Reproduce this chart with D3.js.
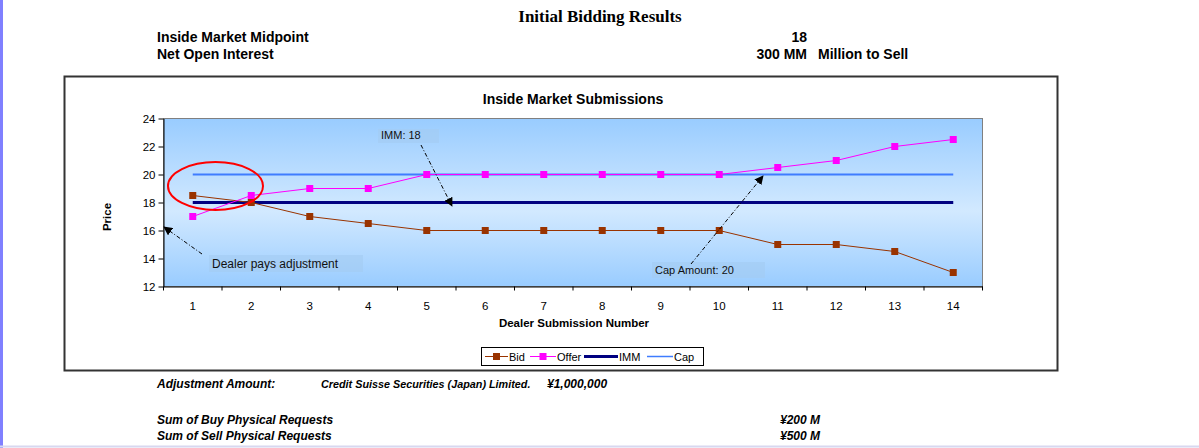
<!DOCTYPE html>
<html>
<head>
<meta charset="utf-8">
<script src="https://cdn.jsdelivr.net/npm/d3@7"></script>
<style>
  html, body { margin: 0; padding: 0; background: #fff; }
  svg { display: block; }
</style>
</head>
<body>
<div id="chart"></div>
<script>
// data
const submissions = [1, 2, 3, 4, 5, 6, 7, 8, 9, 10, 11, 12, 13, 14];
const bidValues = [18.5, 18, 17, 16.5, 16, 16, 16, 16, 16, 16, 15, 15, 14.5, 13];
const offerValues = [17, 18.5, 19, 19, 20, 20, 20, 20, 20, 20, 20.5, 21, 22, 22.5];
const immValues = [18, 18, 18, 18, 18, 18, 18, 18, 18, 18, 18, 18, 18, 18];
const capValues = [20, 20, 20, 20, 20, 20, 20, 20, 20, 20, 20, 20, 20, 20];
const priceTicks = [12, 14, 16, 18, 20, 22, 24];
const seriesNames = ['Bid', 'Offer', 'IMM', 'Cap'];

const headerRows = [
  { label: 'Inside Market Midpoint', value: '18', extra: '' },
  { label: 'Net Open Interest', value: '300 MM', extra: 'Million to Sell' }
];
const footerRows = [
  { label: 'Sum of Buy Physical Requests', value: '\u00a5200 M' },
  { label: 'Sum of Sell Physical Requests', value: '\u00a5500 M' }
];

const W = 1199, H = 448;
const plot = { left: 163.5, top: 118.5, right: 982.5, bottom: 286.5 };

const svg = d3.select('#chart').append('svg')
  .attr('width', W)
  .attr('height', H)
  .style('font-family', 'Arial, "Liberation Sans", sans-serif');

// page edges
svg.append('rect').attr('x', 0).attr('y', 0).attr('width', 3).attr('height', H).attr('fill', '#8080ff');
svg.append('line').attr('x1', 0).attr('x2', W).attr('y1', 446.5).attr('y2', 446.5)
  .attr('stroke', '#d8d8f0').attr('stroke-width', 2);

// header
svg.append('text').attr('x', 600).attr('y', 22).attr('text-anchor', 'middle')
  .style('font-family', '"Liberation Serif", "Times New Roman", serif')
  .style('font-weight', 'bold').style('font-size', '17px')
  .text('Initial Bidding Results');

headerRows.forEach((r, i) => {
  const y = 42 + i * 17;
  const g = svg.append('g').style('font-weight', 'bold').style('font-size', '14px');
  g.append('text').attr('x', 157).attr('y', y).text(r.label);
  g.append('text').attr('x', 807).attr('y', y).attr('text-anchor', 'end').text(r.value);
  if (r.extra) g.append('text').attr('x', 818).attr('y', y).text(r.extra);
});

// chart frame
svg.append('rect').attr('x', 64.5).attr('y', 76.5).attr('width', 993).attr('height', 294)
  .attr('fill', '#fff').attr('stroke', '#333').attr('stroke-width', 2);

svg.append('text').attr('x', 573).attr('y', 104).attr('text-anchor', 'middle')
  .style('font-weight', 'bold').style('font-size', '14px')
  .text('Inside Market Submissions');

// scales
const x = d3.scaleBand().domain(submissions).range([plot.left, plot.right]);
const cx = d => x(d) + x.bandwidth() / 2;
const y = d3.scaleLinear().domain([12, 24]).range([plot.bottom, plot.top]);

// plot background
const defs = svg.append('defs');
const grad = defs.append('linearGradient').attr('id', 'plotbg')
  .attr('x1', 0).attr('y1', 0).attr('x2', 0).attr('y2', 1);
grad.append('stop').attr('offset', '0%').attr('stop-color', '#99ccff');
grad.append('stop').attr('offset', '55%').attr('stop-color', '#d2e9ff');
grad.append('stop').attr('offset', '100%').attr('stop-color', '#99ccff');

svg.append('rect').attr('x', plot.left).attr('y', plot.top)
  .attr('width', plot.right - plot.left).attr('height', plot.bottom - plot.top)
  .attr('fill', 'url(#plotbg)').attr('stroke', '#808080').attr('stroke-width', 1);

// arrow marker
defs.append('marker').attr('id', 'arrow').attr('viewBox', '0 0 10 10')
  .attr('refX', 9).attr('refY', 5).attr('markerWidth', 9).attr('markerHeight', 9)
  .attr('markerUnits', 'userSpaceOnUse').attr('orient', 'auto')
  .append('path').attr('d', 'M0,0 L10,5 L0,10 z').attr('fill', '#000');

// axes
const yAxis = svg.append('g').attr('transform', `translate(${plot.left},0)`)
  .call(d3.axisLeft(y).tickValues(priceTicks).tickSize(5).tickSizeOuter(0));
const xAxis = svg.append('g').attr('transform', `translate(0,${plot.bottom})`)
  .call(d3.axisBottom(x).tickSize(0).tickPadding(15));
[yAxis, xAxis].forEach(a => {
  a.selectAll('text').style('font-size', '11.5px').attr('fill', '#000');
  a.select('.domain').attr('stroke', '#000');
});
yAxis.selectAll('text').attr('x', -8);
// x ticks sit between categories
xAxis.selectAll('.sep').data(submissions.concat([15])).join('line')
  .attr('class', 'sep')
  .attr('x1', (d, i) => plot.left + i * x.bandwidth())
  .attr('x2', (d, i) => plot.left + i * x.bandwidth())
  .attr('y1', 0).attr('y2', 4).attr('stroke', '#000');

svg.append('text').attr('transform', 'translate(111,217) rotate(-90)')
  .attr('text-anchor', 'middle').style('font-weight', 'bold').style('font-size', '11.5px')
  .text('Price');
svg.append('text').attr('x', 574).attr('y', 327).attr('text-anchor', 'middle')
  .style('font-weight', 'bold').style('font-size', '11.5px')
  .text('Dealer Submission Number');

// series
const line = d3.line().x((d, i) => cx(submissions[i])).y(d => y(d));

svg.append('path').datum(capValues).attr('d', line)
  .attr('fill', 'none').attr('stroke', '#3f7cff').attr('stroke-width', 2);
svg.append('path').datum(immValues).attr('d', line)
  .attr('fill', 'none').attr('stroke', '#000080').attr('stroke-width', 3);

const series = [
  { values: bidValues, color: '#993300' },
  { values: offerValues, color: '#ff00ff' }
];
series.forEach(s => {
  svg.append('path').datum(s.values).attr('d', line)
    .attr('fill', 'none').attr('stroke', s.color).attr('stroke-width', 1);
  svg.append('g').selectAll('rect').data(s.values).join('rect')
    .attr('x', (d, i) => cx(submissions[i]) - 3.5)
    .attr('y', d => y(d) - 3.5)
    .attr('width', 7).attr('height', 7)
    .attr('fill', s.color);
});

// annotations
function noteBox(bx, by, bw, bh, label, size) {
  svg.append('rect').attr('x', bx).attr('y', by).attr('width', bw).attr('height', bh)
    .attr('fill', '#a4cbf2').attr('opacity', 0.6);
  svg.append('text').attr('x', bx + 3).attr('y', by + bh - 4)
    .style('font-size', size + 'px').attr('fill', '#111').text(label);
}
function noteArrow(x1, y1, x2, y2) {
  svg.append('line').attr('x1', x1).attr('y1', y1).attr('x2', x2).attr('y2', y2)
    .attr('stroke', '#000').attr('stroke-width', 1)
    .attr('stroke-dasharray', '4,2,1,2').attr('marker-end', 'url(#arrow)');
}
noteBox(378, 129, 61, 14, 'IMM: 18', 11);
noteArrow(421, 145, 452, 206);
noteBox(209, 255, 154, 17, 'Dealer pays adjustment', 12);
noteArrow(202, 254, 164, 227);
noteBox(652, 262, 113, 16, 'Cap Amount: 20', 11);
noteArrow(691, 264, 763, 176);

svg.append('ellipse').attr('cx', 215.5).attr('cy', 186).attr('rx', 47.5).attr('ry', 24)
  .attr('fill', 'none').attr('stroke', '#ff0000').attr('stroke-width', 2);

// legend
const legend = svg.append('g').attr('transform', 'translate(481,347)');
legend.append('rect').attr('x', 0.5).attr('y', 0.5).attr('width', 222).attr('height', 18)
  .attr('fill', '#fff').attr('stroke', '#000');
const legendItems = [
  { name: seriesNames[0], color: '#993300', width: 1, marker: true, x0: 4, x1: 27 },
  { name: seriesNames[1], color: '#ff00ff', width: 1, marker: true, x0: 49, x1: 75 },
  { name: seriesNames[2], color: '#000080', width: 3, marker: false, x0: 103, x1: 137 },
  { name: seriesNames[3], color: '#3f7cff', width: 1.5, marker: false, x0: 166, x1: 192 }
];
legendItems.forEach(it => {
  legend.append('line').attr('x1', it.x0).attr('x2', it.x1).attr('y1', 9.5).attr('y2', 9.5)
    .attr('stroke', it.color).attr('stroke-width', it.width);
  if (it.marker) {
    legend.append('rect').attr('x', (it.x0 + it.x1) / 2 - 3.5).attr('y', 6)
      .attr('width', 7).attr('height', 7).attr('fill', it.color);
  }
  legend.append('text').attr('x', it.x1 + 1).attr('y', 13.5)
    .style('font-size', '11px').text(it.name);
});

// footer
const narrow = '"Liberation Sans Narrow", "Arial Narrow", Arial, sans-serif';
const foot = svg.append('g').style('font-family', narrow)
  .style('font-weight', 'bold').style('font-style', 'italic');
foot.append('text').attr('x', 157).attr('y', 388).style('font-size', '12px').text('Adjustment Amount:');
foot.append('text').attr('x', 321).attr('y', 388).style('font-size', '10.8px')
  .text('Credit Suisse Securities (Japan) Limited.');
foot.append('text').attr('x', 547).attr('y', 388).style('font-size', '12px').text('\u00a51,000,000');
footerRows.forEach((r, i) => {
  const yy = 424 + i * 16;
  foot.append('text').attr('x', 157).attr('y', yy).style('font-size', '12px').text(r.label);
  foot.append('text').attr('x', 780).attr('y', yy).style('font-size', '12px').text(r.value);
});
</script>
</body>
</html>
